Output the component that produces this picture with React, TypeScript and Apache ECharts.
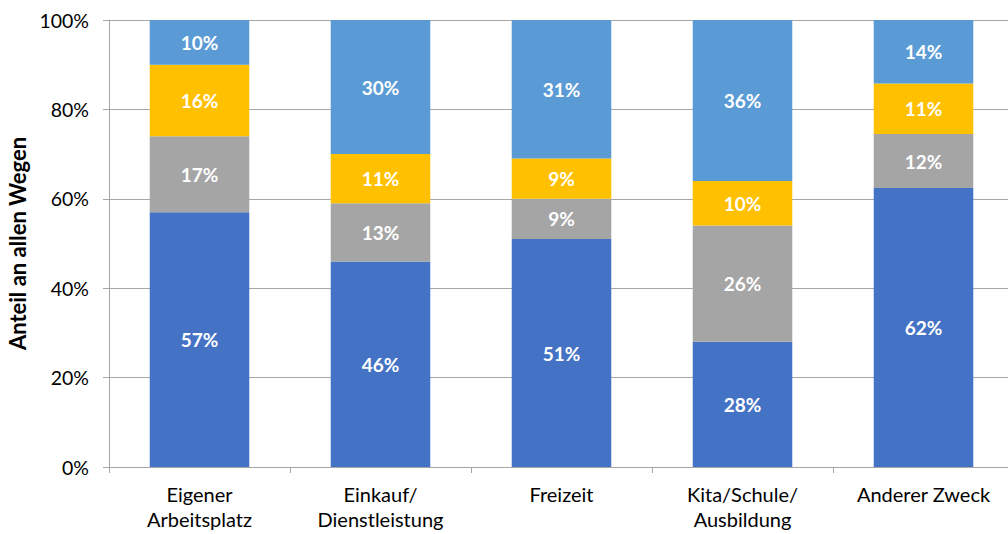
import React, { useEffect, useRef } from "react";
import * as echarts from "echarts";

const categories = [
  "Eigener\nArbeitsplatz",
  "Einkauf/\nDienstleistung",
  "Freizeit",
  "Kita/Schule/\nAusbildung",
  "Anderer Zweck",
];
const series1 = [57, 46, 51, 28, 62.4];
const series2 = [17, 13, 9, 26, 12.1];
const series3 = [16, 11, 9, 10, 11.3];
const series4 = [10, 30, 31, 36, 14.2];
const seriesNames = ["Anteil 1", "Anteil 2", "Anteil 3", "Anteil 4"];
const colors = ["#4472C4", "#A5A5A5", "#FFC000", "#5B9BD5"];
const yTicks = [0, 20, 40, 60, 80, 100];

const FONT = "Lato, 'Open Sans', sans-serif";

export default function App() {
  const ref = useRef<HTMLDivElement>(null);
  useEffect(() => {
    if (!ref.current) return;
    const chart = echarts.init(ref.current, null, { renderer: "svg" });
    const data = [series1, series2, series3, series4];
    chart.setOption({
      animation: false,
      textStyle: { fontFamily: FONT },
      grid: {
        left: 109,
        right: -6,
        top: 20,
        bottom: 67,
        containLabel: false,
        outerBoundsMode: "none",
      },
      xAxis: {
        type: "category",
        data: categories,
        axisLine: { show: true, lineStyle: { color: "#A6A6A6", width: 1 } },
        axisTick: { show: true, alignWithLabel: false, length: 6, lineStyle: { color: "#A6A6A6" } },
        axisLabel: {
          color: "#000",
          fontSize: 20,
          fontFamily: FONT,
          lineHeight: 25,
          margin: 14,
          interval: 0,
        },
      },
      yAxis: {
        type: "value",
        min: yTicks[0],
        max: yTicks[yTicks.length - 1],
        interval: 20,
        name: "Anteil an allen Wegen",
        nameLocation: "middle",
        nameGap: 77,
        nameRotate: 90,
        nameTextStyle: { color: "#000", fontSize: 22, fontWeight: "bold", fontFamily: FONT },
        axisLine: { show: true, lineStyle: { color: "#A6A6A6", width: 1 } },
        axisTick: { show: true, length: 6, lineStyle: { color: "#A6A6A6" } },
        axisLabel: {
          color: "#000",
          fontSize: 19.5,
          fontFamily: FONT,
          margin: 20,
          formatter: (v: number) => v + "%",
        },
        splitLine: { show: true, lineStyle: { color: "#A6A6A6", width: 1 } },
      },
      series: data.map((d, i) => ({
        name: seriesNames[i],
        type: "bar",
        stack: "total",
        barWidth: "55%",
        data: d,
        itemStyle: { color: colors[i] },
        label: {
          show: true,
          position: "inside",
          color: "#fff",
          fontSize: 19,
          fontWeight: "bold",
          fontFamily: FONT,
          formatter: (p: any) => Math.round(p.value) + "%",
        },
      })),
    });
    return () => chart.dispose();
  }, []);
  return (
    <div
      ref={ref}
      style={{ position: "fixed", left: 0, top: 0, width: 1008, height: 534, background: "#fff" }}
    />
  );
}
